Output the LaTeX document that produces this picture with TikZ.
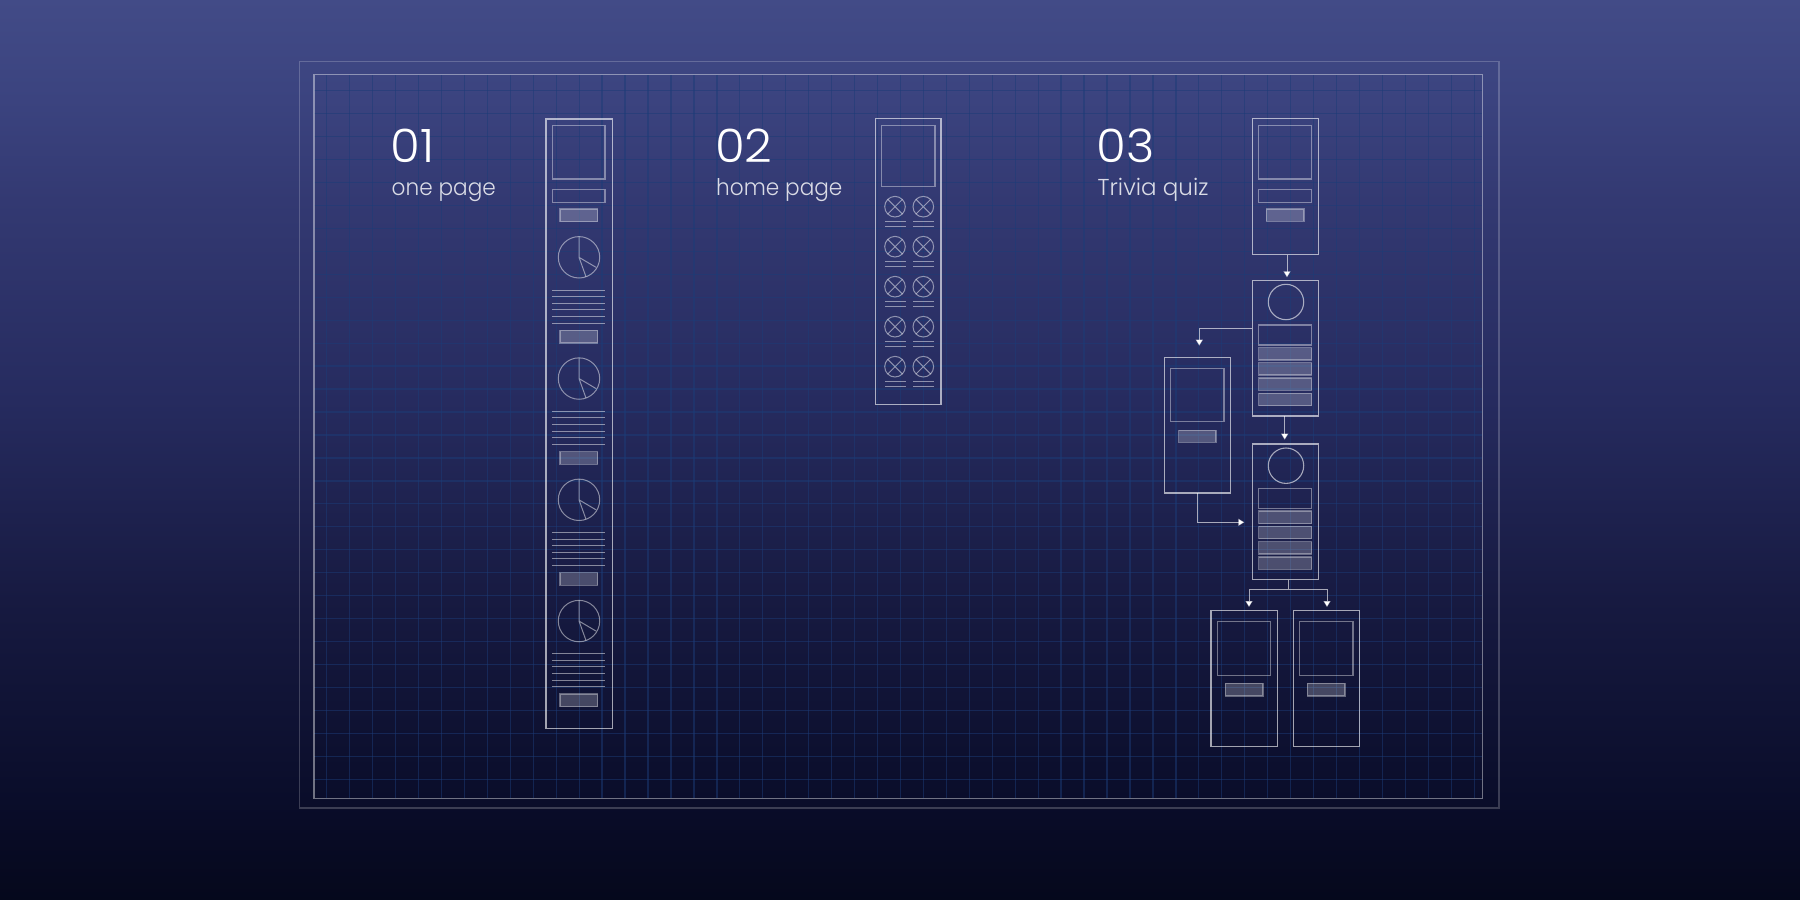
\documentclass[tikz,border=0pt]{standalone}
\usepackage{fontspec}
\setmainfont{Poppins}[UprightFont=* Light]
\newfontfamily\subfont{Poppins}[UprightFont=* Light,FakeStretch=0.94]
\newfontfamily\numfont{Poppins}[UprightFont=* Light,FakeStretch=1.05]
\usetikzlibrary{arrows.meta}
\pgfdeclareverticalshading{bgshade}{100bp}{
 rgb(0bp)=(0.020,0.031,0.110);
 rgb(25bp)=(0.020,0.031,0.110);
 rgb(30.56bp)=(0.039,0.051,0.165);
 rgb(41.67bp)=(0.090,0.102,0.255);
 rgb(52.78bp)=(0.149,0.169,0.373);
 rgb(63.89bp)=(0.200,0.224,0.447);
 rgb(69.44bp)=(0.231,0.263,0.498);
 rgb(75bp)=(0.259,0.294,0.529);
 rgb(100bp)=(0.259,0.294,0.529)}
\definecolor{gridc}{RGB}{28,60,120}
\tikzset{
 x=1pt,y=-1pt,
 outerframe/.style={draw=white,draw opacity=.2,line width=1.3pt},
 innerframe/.style={draw=white,draw opacity=.42,line width=1.1pt},
 gridline/.style={draw=gridc,draw opacity=.5,line width=1.3pt},
 phone/.style={draw=white,draw opacity=.62,line width=1.1pt,inner sep=0pt,outer sep=0pt},
 imgbox/.style={draw=white,draw opacity=.4,line width=1.1pt,inner sep=0pt,outer sep=0pt},
 btnbox/.style={draw=white,draw opacity=.35,fill=white,fill opacity=.22,line width=1.1pt,inner sep=0pt,outer sep=0pt},
 piecirc/.style={circle,draw=white,draw opacity=.48,line width=1pt,inner sep=0pt,outer sep=0pt},
 qcirc/.style={circle,draw=white,draw opacity=.6,line width=1.1pt,inner sep=0pt,outer sep=0pt},
 thin line/.style={draw=white,draw opacity=.48,line width=1pt},
 link/.style={draw=white,draw opacity=.62,line width=1pt,-{Triangle[length=6pt,width=7pt,fill=white]}},
 linkplain/.style={draw=white,draw opacity=.62,line width=1pt},
 numlabel/.style={text=white,anchor=base west,inner sep=0pt,font=\numfont\fontsize{46}{46}\selectfont},
 sublabel/.style={text=white,text opacity=.82,anchor=base west,inner sep=0pt,font=\subfont\fontsize{23}{25}\selectfont},
}
\newcommand{\pbox}[6]{%
 \pgfmathsetmacro{\pbw}{(#5)-(#3)}\pgfmathsetmacro{\pbh}{(#6)-(#4)}%
 \node[#2,minimum width=\pbw pt,minimum height=\pbh pt] (#1) at ({((#3)+(#5))/2},{((#4)+(#6))/2}) {};}
\begin{document}
\begin{tikzpicture}
\useasboundingbox (0,0) rectangle (1800,900);
\shade[shading=bgshade,shading angle=0] (0,0) rectangle (1800,900);
% grid
\begin{scope}
\clip (314,74.7) rectangle (1482.3,798.3);
\foreach \k in {0,...,50} \draw[gridline] ({326.7+22.95*\k},74.7) -- ({326.7+22.95*\k},798.3);
\foreach \k in {0,...,30} \draw[gridline] (314,{90.7+22.95*\k}) -- (1482.3,{90.7+22.95*\k});
\end{scope}
\pbox{outer}{outerframe}{299.5}{61.7}{1499}{808}
\pbox{inner}{innerframe}{314}{74.7}{1482.3}{798.3}
% labels
\node[numlabel] (n1) at (390.5,162.2) {01};
\node[sublabel] (s1) at (391.5,195) {one page};
\node[numlabel] (n2) at (715,162.2) {02};
\node[sublabel] (s2) at (716,195) {home page};
\node[numlabel] (n3) at (1096.5,162.2) {03};
\node[sublabel,font=\rmfamily\fontsize{23}{25}\selectfont] (s3) at (1097.5,195) {Trivia quiz};
% column 1
\pbox{one}{phone}{546}{119}{612.3}{728.3}
\pbox{oneimg}{imgbox}{552.3}{125.3}{605}{179}
\pbox{onewide}{imgbox}{552.3}{189.3}{605}{202.7}
\foreach \i in {0,1,2,3,4}{
 \pbox{onebtn\i}{btnbox}{560}{209+121.25*\i}{597.7}{221.7+121.25*\i}
}
\foreach \i in {0,1,2,3}{
 \node[piecirc,minimum size=41.4pt] (pie\i) at (579,{257.3+121.25*\i}) {};
 \draw[thin line] (pie\i.north) -- (pie\i.center) -- +(17,10) (pie\i.center) -- +(7,19.4);
 \foreach \j in {0,...,5}
  \draw[thin line] (552.3,{290+6.6*\j+121.25*\i}) -- (605,{290+6.6*\j+121.25*\i});
}
% column 2
\pbox{two}{phone}{875.3}{118.7}{941}{404.3}
\pbox{twoimg}{imgbox}{881.7}{125.3}{935}{186.3}
\foreach \r in {0,...,4}{
 \foreach \c/\cx/\la/\lb in {0/895/885/905.7,1/923.3/913.3/933.7}{
  \node[piecirc,minimum size=20.6pt] (x\r\c) at (\cx,{206.7+40*\r}) {};
  \draw[thin line] (x\r\c.north east) -- (x\r\c.south west) (x\r\c.north west) -- (x\r\c.south east);
  \draw[thin line] (\la,{221.3+40*\r}) -- (\lb,{221.3+40*\r});
  \draw[thin line] (\la,{226.3+40*\r}) -- (\lb,{226.3+40*\r});
 }
}
% column 3
\pbox{pa}{phone}{1252.3}{118.7}{1318.3}{254.7}
\pbox{paimg}{imgbox}{1258.7}{125.3}{1311.7}{179}
\pbox{pawide}{imgbox}{1258.7}{189.3}{1311.7}{202.7}
\pbox{pabtn}{btnbox}{1266.3}{209}{1304}{221.3}
\pbox{pb}{phone}{1252.3}{280.3}{1318.3}{416}
\node[qcirc,minimum size=35.4pt] (pbc) at (1286,302) {};
\pbox{pbbox}{imgbox}{1258.7}{325}{1311.7}{345}
\pbox{pbb1}{btnbox}{1258.7}{347.7}{1311.7}{360}
\pbox{pbb2}{btnbox}{1258.7}{362.7}{1311.7}{375}
\pbox{pbb3}{btnbox}{1258.7}{378}{1311.7}{390.3}
\pbox{pbb4}{btnbox}{1258.7}{393.3}{1311.7}{405.7}
\pbox{pc}{phone}{1164.3}{357.3}{1230.3}{493}
\pbox{pcimg}{imgbox}{1170.7}{368.3}{1224}{421.7}
\pbox{pcbtn}{btnbox}{1178.7}{430.3}{1216}{442.3}
\pbox{pd}{phone}{1252.3}{444}{1318.3}{579.7}
\node[qcirc,minimum size=35.4pt] (pdc) at (1286,465.7) {};
\pbox{pdbox}{imgbox}{1258.7}{488.3}{1311.7}{508.3}
\pbox{pdb1}{btnbox}{1258.7}{511}{1311.7}{523.7}
\pbox{pdb2}{btnbox}{1258.7}{526.3}{1311.7}{538.7}
\pbox{pdb3}{btnbox}{1258.7}{541.7}{1311.7}{554}
\pbox{pdb4}{btnbox}{1258.7}{557}{1311.7}{569.3}
\pbox{pe}{phone}{1211}{610.7}{1277.3}{746.3}
\pbox{peimg}{imgbox}{1217.3}{621.7}{1270.7}{675.3}
\pbox{pebtn}{btnbox}{1225.3}{683.3}{1263}{696}
\pbox{pf}{phone}{1293.3}{610.7}{1359.7}{746.3}
\pbox{pfimg}{imgbox}{1299.7}{621.7}{1353}{675.3}
\pbox{pfbtn}{btnbox}{1307.3}{683.3}{1345}{696}
% connectors
\coordinate (t1) at (1287,277.3);
\draw[link] (pa.south -| t1) -- (t1);
\coordinate (t2) at (1199.3,345.7);
\coordinate (s2a) at (1252.3,328.3);
\draw[link] (pb.west |- s2a) -| (t2);
\coordinate (t3) at (1284.7,439.7);
\draw[link] (pb.south -| t3) -- (t3);
\coordinate (t4) at (1244.3,522.3);
\coordinate (s4a) at (1197,493);
\draw[link] (pc.south -| s4a) |- (t4);
\coordinate (j) at (1288,589.3);
\coordinate (t5) at (1249,607);
\coordinate (t6) at (1327,607);
\draw[linkplain] (pd.south -| j) -- (j);
\draw[link] (j) -| (t5);
\draw[link] (j) -| (t6);
\end{tikzpicture}
\end{document}
